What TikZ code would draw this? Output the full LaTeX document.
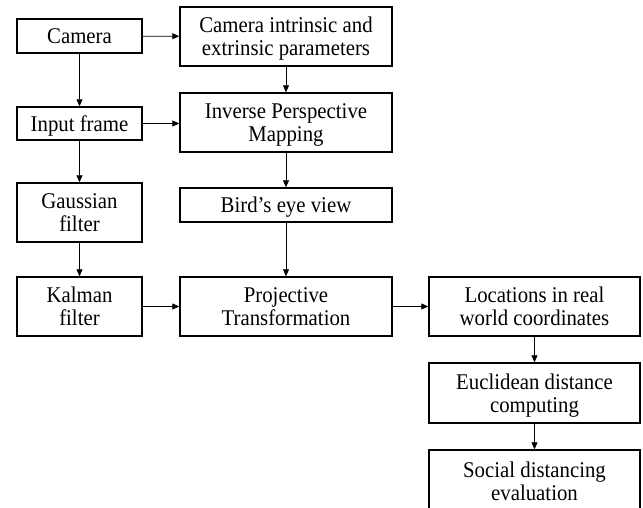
\documentclass[tikz,border=0pt]{standalone}
\usepackage{fontspec}
\setmainfont{Liberation Serif}
\usepackage{graphicx}
\usetikzlibrary{arrows.meta}
\newcommand{\boxtext}[1]{\raisebox{-3pt}[\height][\depth]{\scalebox{1}[1.08]{\begin{tabular}{@{}c@{}}#1\end{tabular}}}}
\begin{document}
\begin{tikzpicture}[x=1pt,y=-1pt,
  box/.style={draw, line width=1.4pt, align=center, inner sep=0pt,
    font=\fontsize{20.8}{21.4}\selectfont},
  narrow/.style={box, minimum width=125pt},
  wide/.style={box, minimum width=212pt},
  conn/.style={line width=0.8pt, -{Triangle[length=7pt,width=6pt]}}]
\useasboundingbox (0,0) rectangle (643,508);
\clip (0,0) rectangle (643,508);
\node[narrow, minimum height=34pt] (cam) at (79.5,36) {\boxtext{Camera}};
\node[wide, minimum height=59pt] (par) at (286,36.5) {\boxtext{Camera intrinsic and\\extrinsic parameters}};
\node[narrow, minimum height=33pt] (inp) at (79.5,123.5) {\boxtext{Input frame}};
\node[wide, minimum height=59pt] (ipm) at (286,122.5) {\boxtext{Inverse Perspective\\Mapping}};
\node[narrow, minimum height=59pt] (gau) at (79.5,212.5) {\boxtext{Gaussian\\filter}};
\node[wide, minimum height=34pt] (bird) at (286,205) {\boxtext{Bird’s eye view}};
\node[narrow, minimum height=59pt] (kal) at (79.5,306.5) {\boxtext{Kalman\\filter}};
\node[wide, minimum height=59pt] (proj) at (286,306.5) {\boxtext{Projective\\Transformation}};
\node[box, minimum width=211pt, minimum height=59pt] (loc) at (534.5,306.5) {\boxtext{Locations in real\\world coordinates}};
\node[box, minimum width=211pt, minimum height=60pt] (euc) at (534.5,393) {\boxtext{Euclidean distance\\computing}};
\node[box, minimum width=211pt, minimum height=62pt] (soc) at (534.5,481) {\boxtext{Social distancing\\evaluation}};
\draw[conn] (cam) -- (par);
\draw[conn] (par) -- (ipm);
\draw[conn] (cam) -- (inp);
\draw[conn] (inp) -- (inp -| ipm.west);
\draw[conn] (inp) -- (gau);
\draw[conn] (gau) -- (kal);
\draw[conn] (ipm) -- (bird);
\draw[conn] (bird) -- (proj);
\draw[conn] (kal) -- (proj);
\draw[conn] (proj) -- (loc);
\draw[conn] (loc) -- (euc);
\draw[conn] (euc) -- (soc);
\end{tikzpicture}
\end{document}
